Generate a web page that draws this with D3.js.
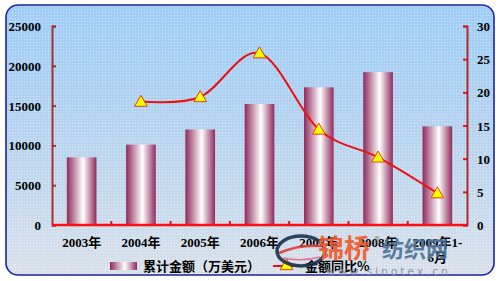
<!DOCTYPE html>
<html>
<head>
<meta charset="utf-8">
<script src="https://cdnjs.cloudflare.com/ajax/libs/d3/7.8.5/d3.min.js"></script>
<style>
  body { margin: 0; background: #fff; }
  svg { display: block; }
  .lbl { font-family: "Liberation Serif", "Noto Sans CJK SC", serif; font-weight: bold; font-size: 13px; fill: #000; }
  .cjk { font-family: "Noto Sans CJK SC", sans-serif; font-weight: bold; font-size: 13px; fill: #000; }
</style>
</head>
<body>
<main></main>
<script>
var years = ["2003年", "2004年", "2005年", "2006年", "2007年", "2008年", "2009年1-"];
var yearsLine2 = ["", "", "", "", "", "", "6月"];
var amount = [8500, 10100, 12000, 15200, 17300, 19200, 12400];
var growth = [null, 18.6, 19.3, 25.9, 14.4, 10.2, 4.8];
var leftTicks = [0, 5000, 10000, 15000, 20000, 25000];
var rightTicks = [0, 5, 10, 15, 20, 25, 30];
var legendNames = ["累计金额（万美元）", "金额同比%"];

var svg = d3.select("main").append("svg").attr("width", 499).attr("height", 281),
    width = +svg.attr("width"),
    height = +svg.attr("height");

var defs = svg.append("defs");

var bg = defs.append("linearGradient").attr("id", "bg").attr("x1", 0).attr("y1", 0).attr("x2", 0).attr("y2", 1);
bg.append("stop").attr("offset", "0%").attr("stop-color", "#9fcdf8");
bg.append("stop").attr("offset", "45%").attr("stop-color", "#b5d3f0");
bg.append("stop").attr("offset", "100%").attr("stop-color", "#d9e1ea");

var bar = defs.append("linearGradient").attr("id", "bar").attr("x1", 0).attr("y1", 0).attr("x2", 1).attr("y2", 0);
bar.append("stop").attr("offset", "0%").attr("stop-color", "#8e2a5c");
bar.append("stop").attr("offset", "55%").attr("stop-color", "#ffffff");
bar.append("stop").attr("offset", "100%").attr("stop-color", "#8e2a5c");

// dither dots like the original bitmap
var pat = defs.append("pattern").attr("id", "dots").attr("width", 3).attr("height", 3).attr("patternUnits", "userSpaceOnUse");
pat.append("rect").attr("width", 1).attr("height", 1).attr("fill", "#fff").attr("opacity", 0.45);

svg.append("rect")
    .attr("x", 6).attr("y", 5).attr("width", 488).attr("height", 270)
    .attr("rx", 12).attr("ry", 12)
    .attr("fill", "url(#bg)");
svg.append("rect")
    .attr("x", 6).attr("y", 5).attr("width", 488).attr("height", 270)
    .attr("rx", 12).attr("ry", 12)
    .attr("fill", "url(#dots)")
    .attr("stroke", "#1a22a8").attr("stroke-width", 1.6);

var x = d3.scaleBand().domain(years).range([52, 467]);
var y = d3.scaleLinear().domain([0, 25000]).range([225, 26]);
var y2 = d3.scaleLinear().domain([0, 30]).range([225, 26]);

// bars
svg.append("g").selectAll("rect")
    .data(amount)
  .enter().append("rect")
    .attr("x", (d, i) => x(years[i]) + x.bandwidth() * 0.25)
    .attr("width", x.bandwidth() * 0.5)
    .attr("y", d => y(d))
    .attr("height", d => y(0) - y(d))
    .attr("fill", "url(#bar)");

// left axis
var gl = svg.append("g").attr("transform", "translate(52,0)")
    .call(d3.axisRight(y).tickValues(leftTicks).tickSize(4).tickFormat(""));
gl.select(".domain").attr("stroke", "#a8302c").attr("stroke-width", 2);
gl.selectAll(".tick line").attr("stroke", "#a8302c").attr("stroke-width", 2);
svg.append("g").selectAll("text")
    .data(leftTicks)
  .enter().append("text")
    .attr("class", "lbl")
    .attr("x", 41).attr("y", d => y(d) + 5)
    .attr("text-anchor", "end")
    .text(d => d);

// right axis
var gr = svg.append("g").attr("transform", "translate(467,0)")
    .call(d3.axisLeft(y2).tickValues(rightTicks).tickSize(4).tickFormat(""));
gr.select(".domain").attr("stroke", "#b02a2a").attr("stroke-width", 2);
gr.selectAll(".tick line").attr("stroke", "#e01818").attr("stroke-width", 2);
svg.append("g").selectAll("text")
    .data(rightTicks)
  .enter().append("text")
    .attr("class", "lbl")
    .attr("x", 477).attr("y", d => y2(d) + 5)
    .text(d => d);

// bottom axis
svg.append("line")
    .attr("x1", 52).attr("x2", 467).attr("y1", y(0)).attr("y2", y(0))
    .attr("stroke", "#ff1010").attr("stroke-width", 2.5);
svg.append("g").selectAll("line")
    .data(years.slice(1))
  .enter().append("line")
    .attr("x1", d => x(d)).attr("x2", d => x(d))
    .attr("y1", y(0)).attr("y2", y(0) - 4)
    .attr("stroke", "#c02020").attr("stroke-width", 2);

svg.append("g").selectAll("text")
    .data(years)
  .enter().append("text")
    .attr("class", "lbl")
    .attr("x", d => x(d) + x.bandwidth() / 2)
    .attr("y", 247)
    .attr("text-anchor", "middle")
    .text(d => d);
svg.append("g").selectAll("text")
    .data(yearsLine2)
  .enter().append("text")
    .attr("class", "lbl")
    .attr("x", (d, i) => x(years[i]) + x.bandwidth() / 2)
    .attr("y", 262)
    .attr("text-anchor", "middle")
    .text(d => d);

// growth line
var pts = growth.map((d, i) => [x(years[i]) + x.bandwidth() / 2, d]).filter(p => p[1] != null);
var line = d3.line()
    .x(p => p[0])
    .y(p => y2(p[1]))
    .curve(d3.curveCardinal.tension(0));
svg.append("path")
    .datum(pts)
    .attr("d", line)
    .attr("fill", "none")
    .attr("stroke", "#ee1010")
    .attr("stroke-width", 2);

var tri = d3.symbol().type(d3.symbolTriangle).size(70);
svg.append("g").selectAll("path")
    .data(pts)
  .enter().append("path")
    .attr("d", tri)
    .attr("transform", p => "translate(" + p[0] + "," + (y2(p[1]) + 1) + ")")
    .attr("fill", "#ffff00")
    .attr("stroke", "#e04010")
    .attr("stroke-width", 1);

// legend
svg.append("rect")
    .attr("x", 110).attr("y", 262).attr("width", 27).attr("height", 8)
    .attr("fill", "url(#bar)");
svg.append("text")
    .attr("class", "cjk")
    .attr("x", 143).attr("y", 271)
    .text(legendNames[0]);
svg.append("line")
    .attr("x1", 273).attr("x2", 300).attr("y1", 266).attr("y2", 266)
    .attr("stroke", "#ee1010").attr("stroke-width", 2);
svg.append("path")
    .attr("d", tri)
    .attr("transform", "translate(286.5,266)")
    .attr("fill", "#ffff00")
    .attr("stroke", "#e04010");
svg.append("text")
    .attr("class", "cjk")
    .attr("x", 305).attr("y", 271)
    .text(legendNames[1]);

// watermark of the source site
var wm = svg.append("g").attr("opacity", 0.92);
wm.append("ellipse")
    .attr("cx", 301).attr("cy", 251).attr("rx", 24).attr("ry", 15)
    .attr("fill", "none").attr("stroke", "#1e3450").attr("stroke-width", 3.5);
wm.append("path")
    .attr("d", "M279,253 Q300,244 322,246")
    .attr("fill", "none").attr("stroke", "#e0403a").attr("stroke-width", 2.5);
wm.append("path")
    .attr("d", "M283,258 Q302,262 320,257")
    .attr("fill", "none").attr("stroke", "#e06a8a").attr("stroke-width", 1.5);
wm.append("text")
    .attr("x", 318).attr("y", 258)
    .attr("font-family", "Noto Sans CJK SC").attr("font-weight", "bold").attr("font-size", 26)
    .attr("fill", "#f2592a")
    .text("锦桥");
wm.append("text")
    .attr("x", 373).attr("y", 243)
    .attr("font-family", "DejaVu Sans").attr("font-size", 8)
    .attr("fill", "#7a7a7a")
    .text("®");
wm.append("text")
    .attr("x", 382).attr("y", 257)
    .attr("font-family", "Noto Sans CJK SC").attr("font-weight", "bold").attr("font-size", 22)
    .attr("fill", "#4f7398")
    .text("纺织网");
wm.append("text")
    .attr("x", 326).attr("y", 275)
    .attr("font-family", "DejaVu Sans").attr("font-size", 11)
    .attr("fill", "#8a8f9c")
    .attr("textLength", 122)
    .text("www.sinotex.cn");
</script>
</body>
</html>
